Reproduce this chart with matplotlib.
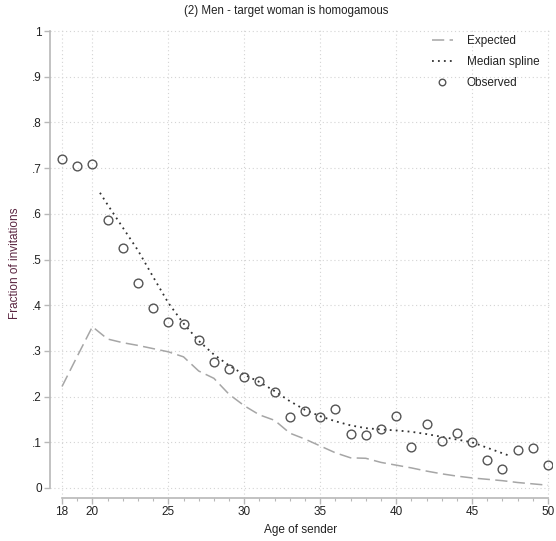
import matplotlib
matplotlib.use("Agg")
import matplotlib.pyplot as plt
import numpy as np

plt.rcParams['font.family'] = ['Liberation Sans', 'DejaVu Sans']

# ---- data ----
ages = list(range(18, 51))
observed = [0.720, 0.705, 0.709, 0.586, 0.525, 0.449, 0.394, 0.363, 0.359, 0.324,
            0.276, 0.260, 0.243, 0.234, 0.210, 0.155, 0.168, 0.155, 0.173, 0.118,
            0.116, 0.129, 0.158, 0.090, 0.141, 0.102, 0.121, 0.101, 0.061, 0.042,
            0.083, 0.088, 0.050]
expected = [0.222, 0.288, 0.353, 0.326, 0.318, 0.312, 0.305, 0.298, 0.287, 0.256,
            0.240, 0.205, 0.180, 0.160, 0.148, 0.120, 0.107, 0.092, 0.077, 0.066,
            0.065, 0.056, 0.050, 0.044, 0.037, 0.031, 0.026, 0.022, 0.019, 0.016,
            0.012, 0.009, 0.006]
spline_ages = [20.5, 21, 22, 23, 24, 25, 26, 27, 28, 29, 30, 31, 32, 33, 34, 35,
               36, 37, 38, 39, 40, 41, 42, 43, 44, 45, 46, 47, 47.5]
spline_vals = [0.646, 0.620, 0.570, 0.520, 0.462, 0.405, 0.360, 0.322, 0.292, 0.268,
               0.248, 0.232, 0.212, 0.190, 0.171, 0.157, 0.146, 0.137, 0.131, 0.128,
               0.126, 0.123, 0.118, 0.112, 0.106, 0.100, 0.088, 0.076, 0.070]

xticks_major = [18, 20, 25, 30, 35, 40, 45, 50]
yticks = [0, .1, .2, .3, .4, .5, .6, .7, .8, .9, 1]
ytick_labels = ['0', '.1', '.2', '.3', '.4', '.5', '.6', '.7', '.8', '.9', '1']

title = "(2) Men - target woman is homogamous"

# ---- figure ----
W, H = 556, 541
fig = plt.figure(figsize=(W / 100, H / 100), dpi=100)
ax = fig.add_axes([50 / W, (H - 498) / H, 502 / W, 470 / H])

ax.plot(ages, expected, color='#a6a6a6', lw=1.1, dashes=(8, 3.5),
        label='Expected', zorder=3)
ax.plot(spline_ages, spline_vals, color='#333333', lw=1.3, dashes=(1, 2.3),
        label='Median spline', zorder=4)
ax.plot(ages, observed, ls='none', marker='o', ms=6.3, mfc='none',
        mec='#555555', mew=1.0, label='Observed', zorder=5)

ax.set_xlim(17.21, 50.26)
ax.set_ylim(-0.0219, 1.0066)

ax.set_xticks(xticks_major)
ax.set_xticks(ages, minor=True)
ax.set_yticks(yticks)
ax.set_yticklabels(ytick_labels)

for s in ['top', 'right']:
    ax.spines[s].set_visible(False)
for s in ['left', 'bottom']:
    ax.spines[s].set_color('#b8b8b8')
    ax.spines[s].set_linewidth(1.2)
ax.spines['left'].set_bounds(0, 1)
ax.spines['bottom'].set_bounds(18, 50)

ax.tick_params(axis='both', which='major', length=4, width=1, color='#b8b8b8',
               labelsize=8.5, labelcolor='#222222', pad=2)
ax.tick_params(axis='x', which='minor', length=2.5, width=0.8, color='#b8b8b8')

ax.grid(True, which='major', axis='both', color='#d4d4d4', lw=0.8,
        linestyle=(0, (1, 2.5)))
ax.set_axisbelow(True)

ax.set_xlabel('Age of sender', fontsize=8.5, color='#222222', labelpad=4)
ax.set_ylabel('Fraction of invitations', fontsize=8.5, color='#5a2540', labelpad=8)

fig.text(286 / W, 1 - 11 / H, title, ha='center', va='center', fontsize=8.3,
         color='#222222')

leg = ax.legend(loc='upper left', bbox_to_anchor=(432 / W, 1 - 35 / H),
                bbox_transform=fig.transFigure, borderaxespad=0, borderpad=0,
                frameon=False, fontsize=8.5, handlelength=1.75,
                handletextpad=1.2, labelspacing=0.78, markerscale=0.75)
for t in leg.get_texts():
    t.set_color('#222222')

fig.savefig('out.png', dpi=100)
